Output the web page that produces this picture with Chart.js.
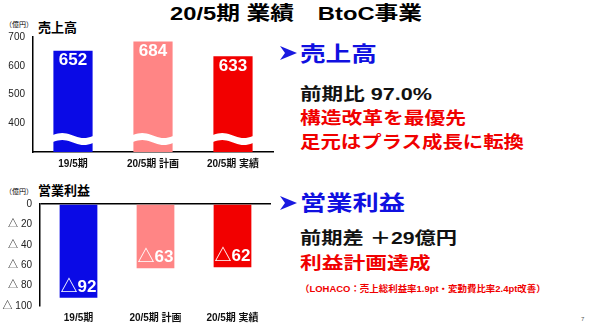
<!DOCTYPE html>
<html>
<head>
<meta charset="utf-8">
<script src="https://cdn.jsdelivr.net/npm/chart.js@4"></script>
<style>
  body { margin: 0; width: 590px; height: 329px; background: #fff; position: relative; overflow: hidden;
         font-family: "Liberation Sans", "Noto Sans CJK JP", sans-serif; }
  .t { position: absolute; white-space: nowrap; font-weight: bold; line-height: 1; transform-origin: left center; }
  .arrow { position: absolute; }
  canvas { position: absolute; }
</style>
</head>
<body>
<div class="t" style="left:170px;top:4px;font-size:19px;transform:scaleX(1.25)">20/5期 業績　BtoC事業</div>

<div class="t" style="left:5px;top:21px;font-size:7px;font-weight:normal">（億円）</div>
<div class="t" style="left:38px;top:21px;font-size:13px">売上高</div>
<div class="t" style="left:5px;top:188px;font-size:7px;font-weight:normal">（億円）</div>
<div class="t" style="left:38px;top:184px;font-size:13px">営業利益</div>

<svg class="arrow" style="left:280px;top:46px" width="17" height="14" viewBox="0 0 17 14">
  <path d="M0,0 L17,7 L0,14 L5,7 Z" fill="#1a1ae0"/>
</svg>
<div class="t" style="left:300px;top:43px;font-size:21px;color:#1010e0;transform:scaleX(1.22)">売上高</div>
<div class="t" style="left:300px;top:86px;font-size:17px;color:#111;transform:scaleX(1.27)">前期比 97.0%</div>
<div class="t" style="left:300px;top:110px;font-size:17px;color:#f00000;transform:scaleX(1.22)">構造改革を最優先</div>
<div class="t" style="left:300px;top:134px;font-size:17px;color:#f00000;transform:scaleX(1.2)">足元はプラス成長に転換</div>

<svg class="arrow" style="left:280px;top:196px" width="17" height="14" viewBox="0 0 17 14">
  <path d="M0,0 L17,7 L0,14 L5,7 Z" fill="#1a1ae0"/>
</svg>
<div class="t" style="left:300px;top:192px;font-size:21px;color:#1010e0;transform:scaleX(1.25)">営業利益</div>
<div class="t" style="left:300px;top:230px;font-size:17px;color:#111;transform:scaleX(1.25)">前期差 ＋29億円</div>
<div class="t" style="left:300px;top:255px;font-size:17px;color:#f00000;transform:scaleX(1.28)">利益計画達成</div>
<div class="t" style="left:300px;top:285px;font-size:9px;color:#f00000;transform:scaleX(1.05)">（LOHACO：売上総利益率1.9pt・変動費比率2.4pt改善）</div>
<div class="t" style="left:581px;top:316px;font-size:6px;font-weight:normal;color:#555">7</div>

<canvas id="sales" width="285" height="157" style="left:0;top:23px"></canvas>
<canvas id="profit" width="285" height="139" style="left:0;top:190px"></canvas>

<script>
// data
const categories = ['19/5期', '20/5期 計画', '20/5期 実績'];
const salesValues = [652, 684, 633];
const salesTicks = [400, 500, 600, 700];
const profitValues = [-92, -63, -62];
const profitTicks = [0, -20, -40, -60, -80, -100];

const barColors = ['#0a0ae6', '#ff8585', '#f20000'];
const FONT = '"Liberation Sans", "Noto Sans CJK JP", sans-serif';

function fmt(v) {
    return v < 0 ? '△' + Math.abs(v) : String(v);
}

// white labels inside the bars
const valueLabels = {
    id: 'valueLabels',
    afterDatasetsDraw(chart, args, opts) {
        const ctx = chart.ctx;
        const meta = chart.getDatasetMeta(0);
        ctx.save();
        ctx.fillStyle = '#fff';
        ctx.font = 'bold 17px ' + FONT;
        ctx.textAlign = 'center';
        ctx.textBaseline = 'middle';
        meta.data.forEach((bar, i) => {
            const v = chart.data.datasets[0].data[i];
            const y = v < 0 ? bar.y - opts.offset : bar.y + opts.offset;
            ctx.fillText(fmt(v), bar.x, y);
        });
        ctx.restore();
    }
};

// wavy break across the bars of the sales chart
const breakMark = {
    id: 'breakMark',
    afterDatasetsDraw(chart) {
        const ctx = chart.ctx;
        const yc = chart.scales.y.getPixelForValue(345);
        const meta = chart.getDatasetMeta(0);
        ctx.save();
        ctx.fillStyle = '#fff';
        meta.data.forEach(bar => {
            const x0 = bar.x - bar.width / 2 - 2;
            const x1 = bar.x + bar.width / 2 + 2;
            const w = x1 - x0;
            ctx.beginPath();
            for (let k = 0; k <= 20; k++) {
                const x = x0 + w * k / 20;
                const y = yc - 3.5 + 2.5 * Math.sin(k / 20 * Math.PI * 2 + Math.PI);
                k === 0 ? ctx.moveTo(x, y) : ctx.lineTo(x, y);
            }
            for (let k = 20; k >= 0; k--) {
                const x = x0 + w * k / 20;
                const y = yc + 3.5 + 2.5 * Math.sin(k / 20 * Math.PI * 2 + Math.PI);
                ctx.lineTo(x, y);
            }
            ctx.closePath();
            ctx.fill();
        });
        ctx.restore();
    }
};

const tickFont = { family: FONT, size: 10 };
const catFont = { family: FONT, size: 10, weight: 'bold' };

new Chart(document.getElementById('sales').getContext('2d'), {
    type: 'bar',
    data: {
        labels: categories,
        datasets: [{
            data: salesValues,
            backgroundColor: barColors,
            barPercentage: 0.49,
            categoryPercentage: 1
        }]
    },
    options: {
        responsive: false,
        animation: false,
        // the y labels already keep 14px free at the top
        layout: { padding: { top: 0, right: 12, left: 0, bottom: 0 } },
        plugins: { legend: { display: false }, tooltip: { enabled: false }, valueLabels: { offset: 10 } },
        scales: {
            x: {
                grid: { display: false, drawTicks: false },
                border: { color: '#000', width: 1.5 },
                ticks: { font: catFont, color: '#111', padding: 6 },
                afterFit(s) { s.height = 28; }
            },
            y: {
                min: 300, max: 700,
                grid: { display: false, drawTicks: false },
                border: { color: '#000', width: 1.5 },
                afterBuildTicks(s) { s.ticks = salesTicks.map(v => ({ value: v })); },
                ticks: { font: tickFont, color: '#222', padding: 8 },
                afterFit(s) { s.width = 33; }
            }
        }
    },
    plugins: [breakMark, valueLabels]
});

new Chart(document.getElementById('profit').getContext('2d'), {
    type: 'bar',
    data: {
        labels: categories,
        datasets: [{
            data: profitValues,
            backgroundColor: barColors,
            barPercentage: 0.49,
            categoryPercentage: 1
        }]
    },
    options: {
        responsive: false,
        animation: false,
        layout: { padding: { top: 7, right: 14, left: 0, bottom: 0 } },
        plugins: { legend: { display: false }, tooltip: { enabled: false }, valueLabels: { offset: 11 } },
        scales: {
            x: {
                grid: { display: false, drawTicks: false },
                border: { display: false },
                ticks: { font: catFont, color: '#111', padding: 6 },
                afterFit(s) { s.height = 23; }
            },
            y: {
                min: -100, max: 0,
                grid: {
                    color: c => c.tick && c.tick.value === 0 ? '#000' : 'rgba(0,0,0,0)',
                    lineWidth: 1.5,
                    drawTicks: false
                },
                border: { color: '#000', width: 1.5 },
                afterBuildTicks(s) { s.ticks = profitTicks.map(v => ({ value: v })); },
                ticks: { font: tickFont, color: '#222', padding: 8, callback: v => v === 0 ? '0' : '△ ' + Math.abs(v) },
                afterFit(s) { s.width = 40; }
            }
        }
    },
    plugins: [valueLabels]
});
</script>
</body>
</html>
